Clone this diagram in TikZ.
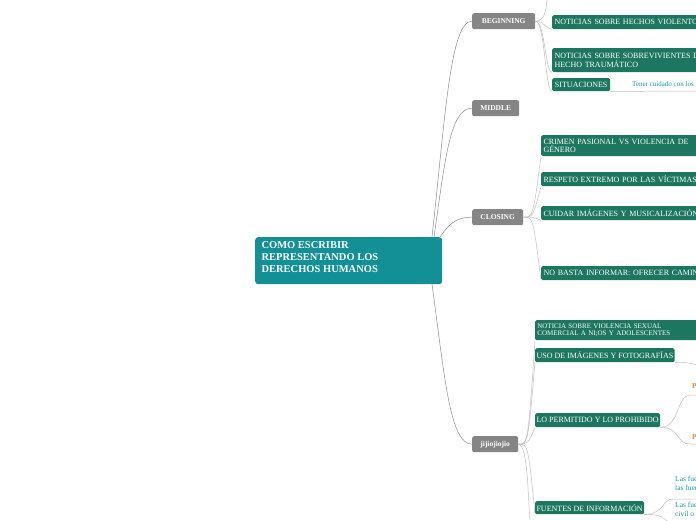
\documentclass[tikz,border=0pt]{standalone}
\usepackage{fontspec}
\setmainfont{Liberation Serif}
\begin{document}
\begin{tikzpicture}[x=1pt,y=-1pt,
 gbox/.style={fill=black!48!white, rounded corners=2pt, text=white, font=\fontsize{7.5}{8}\selectfont\bfseries, anchor=north west, inner sep=0pt, minimum height=16pt},
 grn/.style={fill={rgb,255:red,29;green,118;blue,96}, rounded corners=1.5pt, text=white, font=\fontsize{8}{8.5}\selectfont, anchor=north west, inner sep=0pt, align=left},
 con/.style={draw=black!45, line width=0.5pt},
 con2/.style={draw=black!25, line width=0.5pt}]
\clip (0,0) rectangle (696,520);
\useasboundingbox (0,0) rectangle (696,520);
\fill[white] (0,0) rectangle (696,520);
% root
\node[fill={rgb,255:red,19;green,143;blue,150}, rounded corners=3pt, anchor=north west, minimum width=187pt, minimum height=47pt, inner sep=0pt] (root) at (255,237) {};
\node[anchor=north west, text=white, font=\fontsize{10.5}{12}\selectfont\bfseries, align=left] (roottxt) at (258,238) {COMO ESCRIBIR\\REPRESENTANDO LOS\\DERECHOS HUMANOS};
% gray
\node[gbox, minimum width=63pt] (beg) at (472,13) {BEGINNING};
\node[gbox, minimum width=47pt] (mid) at (472,100) {MIDDLE};
\node[gbox, minimum width=51pt] (clo) at (472,209) {CLOSING};
\node[gbox, minimum width=46pt] (jij) at (472,436) {jijiojiojio};
\draw[con] (432,237) .. controls (445,120) and (450,21) .. (beg.west);
\draw[con] (434,237) .. controls (445,160) and (450,108) .. (mid.west);
\draw[con] (438,240) .. controls (448,225) and (455,217) .. (clo.west);
\draw[con] (432,284) .. controls (445,380) and (450,444) .. (jij.west);
% beginning children
\node[grn, minimum width=150pt, minimum height=14pt, text width=148pt] (b1) at (552,15) {\,\mbox{NOTICIAS SOBRE HECHOS VIOLENTOS}};
\node[grn, minimum width=150pt, minimum height=24pt, text width=148pt] (b2) at (552,48) {\,\mbox{NOTICIAS SOBRE SOBREVIVIENTES DE UN}\\\,HECHO TRAUMÁTICO};
\node[grn, minimum width=58pt, minimum height=13pt] (b3) at (552,78) {\,SITUACIONES\,};
\node[anchor=west, text={rgb,255:red,30;green,150;blue,160}, font=\fontsize{7}{7}\selectfont, inner sep=0pt] (b3t) at (632,84) {Tener cuidado con los};
\draw[con2] (b3.south east) -- (700,91);
\draw[con2] (beg.east) .. controls (545,21) and (546,10) .. (547,0);
\draw[con2] (beg.east) .. controls (545,21) and (545,29) .. (b1.south west);
\draw[con2] (beg.east) .. controls (545,21) and (545,72) .. (b2.south west);
\draw[con2] (beg.east) .. controls (545,21) and (545,91) .. (b3.south west);
% closing children
\node[grn, minimum width=160pt, minimum height=21pt, text width=158pt] (c1) at (541,135) {\,CRIMEN PASIONAL VS VIOLENCIA DE\\\,GÉNERO};
\node[grn, minimum width=160pt, minimum height=14pt, text width=158pt] (c2) at (541,172) {\,\mbox{RESPETO EXTREMO POR LAS VÍCTIMAS}};
\node[grn, minimum width=160pt, minimum height=14pt, text width=158pt] (c3) at (541,206) {\,\mbox{CUIDAR IMÁGENES Y MUSICALIZACIÓN}};
\node[grn, minimum width=160pt, minimum height=14pt, text width=158pt] (c4) at (541,266) {\,\mbox{NO BASTA INFORMAR: OFRECER CAMINOS}};
\foreach \c in {c1,c2,c3,c4}
  \draw[con2] (clo.east) .. controls (533,217) and (533,217) .. (\c.south west);
% jij children
\node[grn, minimum width=165pt, minimum height=20pt, text width=163pt, font=\fontsize{7}{7.5}\selectfont] (j1) at (535,320) {\,NOTICIA SOBRE VIOLENCIA SEXUAL\\\,COMERCIAL A NI;OS Y ADOLESCENTES};
\node[grn, minimum height=14pt] (j2) at (535,348) {\,USO DE IMÁGENES Y FOTOGRAFÍAS\,};
\node[grn, minimum height=14pt] (j3) at (535,413) {\,LO PERMITIDO Y LO PROHIBIDO\,};
\node[grn, minimum height=13pt] (j4) at (535,501) {\,FUENTES DE INFORMACIÓN\,};
\foreach \c in {j1,j2,j3,j4}
  \draw[con2] (jij.east) .. controls (528,444) and (528,444) .. (\c.south west);
\draw[con2] (jij.east) .. controls (528,444) and (528,500) .. (530,520);
\draw[con2] (j2.south east) .. controls (692,362) and (696,365) .. (700,366);
\node[anchor=west, text={rgb,255:red,230;green,140;blue,50}, font=\fontsize{7.5}{8}\selectfont\bfseries, inner sep=0pt] (p1) at (692,386) {P};
\node[anchor=west, text={rgb,255:red,230;green,140;blue,50}, font=\fontsize{7.5}{8}\selectfont\bfseries, inner sep=0pt] (p2) at (692,437) {P};
\draw[con2] (j3.south east) .. controls (680,427) and (676,396) .. (690,395) -- (700,395);
\draw[con2] (j3.south east) .. controls (680,427) and (676,444) .. (690,444) -- (700,444);
\node[anchor=north west, text={rgb,255:red,30;green,150;blue,160}, font=\fontsize{7.5}{9.5}\selectfont, inner sep=0pt, align=left] (f1) at (675,476) {Las fuentes\\las fuentes};
\node[anchor=north west, text={rgb,255:red,30;green,150;blue,160}, font=\fontsize{7.5}{9.5}\selectfont, inner sep=0pt, align=left] (f2) at (675,502) {Las fuentes\\civil o};
\draw[con2] (j4.south east) .. controls (664,514) and (662,500) .. (672,499) -- (700,499);
\draw[con2] (j4.south east) .. controls (664,514) and (664,520) .. (672,524);
\end{tikzpicture}
\end{document}
